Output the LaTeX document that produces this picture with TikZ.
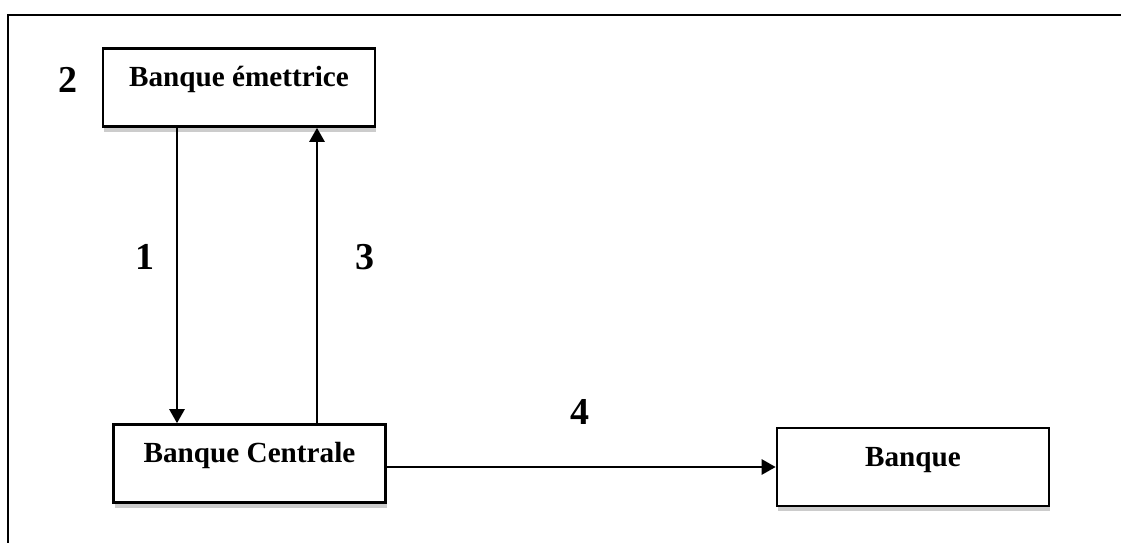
\documentclass[tikz,border=0pt]{standalone}
\usepackage{fontspec}
\setmainfont{Liberation Serif}
\usetikzlibrary{arrows.meta,shadows}
\begin{document}
\begin{tikzpicture}[x=0.5pt,y=-0.5pt,
    box/.style={draw,line width=1.3pt,fill=white,minimum width=136pt,inner sep=0pt,
      text height=19pt,text depth=20pt,font=\bfseries\fontsize{14.6}{16}\selectfont,
      drop shadow={shadow xshift=0.5pt,shadow yshift=-2.5pt,opacity=.4}},
    fleche/.style={line width=1.3pt,-{Triangle[length=7pt,width=7.5pt]}},
    num/.style={font=\bfseries\fontsize{19}{21}\selectfont}]
    \useasboundingbox (0,0) rectangle (1121,542);
    \draw[line width=1.2pt] (8,560) -- (8,15) -- (1140,15);
    \node[box] (emettrice) at (239,87.5) {Banque émettrice};
    \node[box] (centrale) at (249.5,463.5) {Banque Centrale};
    \node[box] (banque) at (913,467) {Banque};
    \node[num] (n2) at (68,80) {2};
    \node[num] (n1) at (145,257) {1};
    \node[num] (n3) at (365,257) {3};
    \node[num] (n4) at (580,412) {4};
    \draw[fleche] (177,0 |- emettrice.south) -- (177,0 |- centrale.north);
    \draw[fleche] (317,0 |- centrale.north) -- (317,0 |- emettrice.south);
    \draw[fleche] (centrale.east |- banque.west) -- (banque.west);
  \end{tikzpicture}
\end{document}
